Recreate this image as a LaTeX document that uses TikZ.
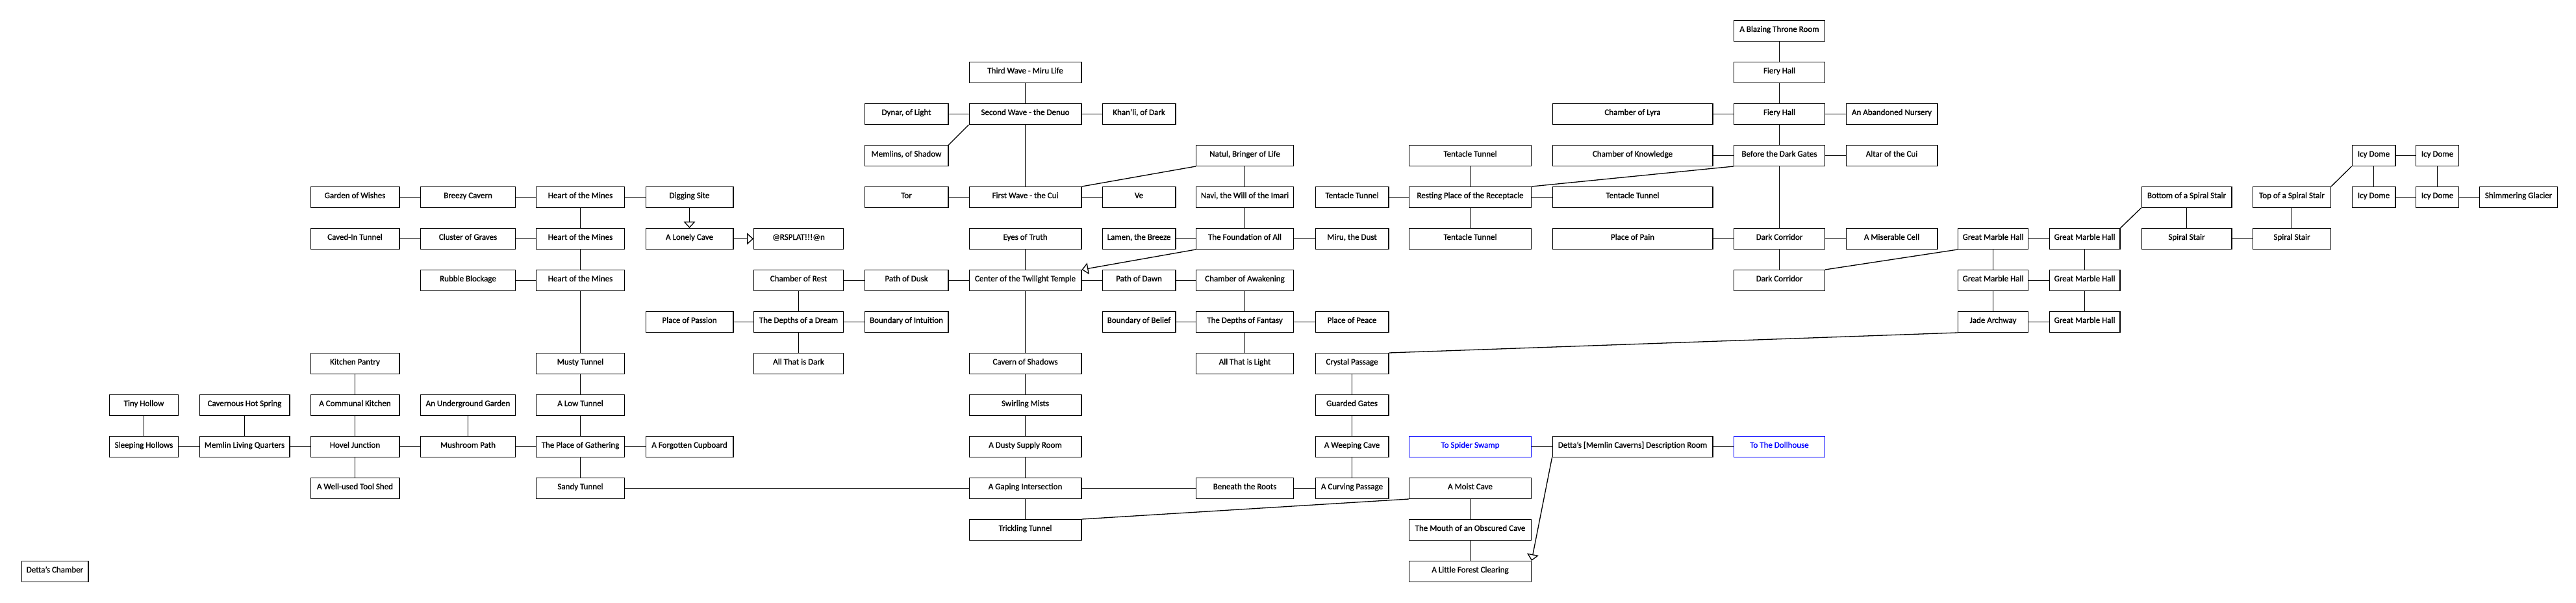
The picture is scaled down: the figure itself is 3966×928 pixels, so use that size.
\documentclass[tikz,border=0pt]{standalone}
\usepackage{fontspec}
\setmainfont{Carlito}[FakeBold=1.2]
\usetikzlibrary{arrows.meta}
\begin{document}
\begin{tikzpicture}[x=1pt,y=-1pt,
  room/.style={draw=black, line width=1.3pt, rectangle, minimum height=31.7pt, inner sep=0pt,
    font=\fontsize{13pt}{15pt}\selectfont, text height=8pt, text depth=5pt},
  portal/.style={room, draw=blue, text=blue},
  link/.style={draw=black, line width=1.3pt},
  arr/.style={link, -{Triangle[open, length=10pt, width=18pt]}},
  col0/.style={minimum width=102.7pt},
  col1/.style={minimum width=105.7pt},
  col2/.style={minimum width=138.7pt},
  col3/.style={minimum width=136.7pt},
  col4/.style={minimum width=145.7pt},
  col5/.style={minimum width=135.7pt},
  col6/.style={minimum width=134.7pt},
  col7/.style={minimum width=137.7pt},
  col8/.style={minimum width=128.7pt},
  col9/.style={minimum width=172.7pt},
  col10/.style={minimum width=112.7pt},
  col11/.style={minimum width=149.7pt},
  col12/.style={minimum width=112.7pt},
  col13/.style={minimum width=187.7pt},
  col14/.style={minimum width=246.7pt},
  col15/.style={minimum width=139.7pt},
  col16/.style={minimum width=140.7pt},
  col17/.style={minimum width=107.7pt},
  col18/.style={minimum width=108.7pt},
  col19/.style={minimum width=138.7pt},
  col20/.style={minimum width=119.7pt},
  col21/.style={minimum width=66.7pt},
  col22/.style={minimum width=65.7pt},
  col23/.style={minimum width=119.7pt}]
\useasboundingbox[fill=white] (0,0) rectangle (3966,928);
% row 0
\node[room,col15] (blaze) at (2739.5,47.5) {A Blazing Throne Room};
% row 1
\node[room,col9] (third) at (1578.5,111.5) {Third Wave - Miru Life};
\node[room,col15] (fiery1) at (2739.5,111.5) {Fiery Hall};
% row 2
\node[room,col8] (dynar) at (1395.5,175.5) {Dynar, of Light};
\node[room,col9] (second) at (1578.5,175.5) {Second Wave - the Denuo};
\node[room,col10] (khanli) at (1753.5,175.5) {Khan'li, of Dark};
\node[room,col14] (lyra) at (2513.5,175.5) {Chamber of Lyra};
\node[room,col15] (fiery2) at (2739.5,175.5) {Fiery Hall};
\node[room,col16] (nursery) at (2912.5,175.5) {An Abandoned Nursery};
% row 3
\node[room,col8] (memlins) at (1395.5,239.5) {Memlins, of Shadow};
\node[room,col11] (natul) at (1916.5,239.5) {Natul, Bringer of Life};
\node[room,col13] (tentT) at (2263.5,239.5) {Tentacle Tunnel};
\node[room,col14] (knowledge) at (2513.5,239.5) {Chamber of Knowledge};
\node[room,col15] (gates) at (2739.5,239.5) {Before the Dark Gates};
\node[room,col16] (altar) at (2912.5,239.5) {Altar of the Cui};
\node[room,col21] (icyA) at (3654.5,239.5) {Icy Dome};
\node[room,col22] (icyB) at (3752.5,239.5) {Icy Dome};
% row 4
\node[room,col3] (garden) at (546.5,303.5) {Garden of Wishes};
\node[room,col4] (breezy) at (720.5,303.5) {Breezy Cavern};
\node[room,col5] (heart1) at (893.5,303.5) {Heart of the Mines};
\node[room,col6] (digging) at (1061.5,303.5) {Digging Site};
\node[room,col8] (tor) at (1395.5,303.5) {Tor};
\node[room,col9] (first) at (1578.5,303.5) {First Wave - the Cui};
\node[room,col10] (ve) at (1753.5,303.5) {Ve};
\node[room,col11] (navi) at (1916.5,303.5) {Navi, the Will of the Imari};
\node[room,col12] (tentL) at (2081.5,303.5) {Tentacle Tunnel};
\node[room,col13] (resting) at (2263.5,303.5) {Resting Place of the Receptacle};
\node[room,col14] (tentR) at (2513.5,303.5) {Tentacle Tunnel};
\node[room,col19] (bottomss) at (3366.5,303.5) {Bottom of a Spiral Stair};
\node[room,col20] (topss) at (3528.5,303.5) {Top of a Spiral Stair};
\node[room,col21] (icyC) at (3654.5,303.5) {Icy Dome};
\node[room,col22] (icyD) at (3752.5,303.5) {Icy Dome};
\node[room,col23] (glacier) at (3877.5,303.5) {Shimmering Glacier};
% row 5
\node[room,col3] (cavedin) at (546.5,367.5) {Caved-In Tunnel};
\node[room,col4] (cluster) at (720.5,367.5) {Cluster of Graves};
\node[room,col5] (heart2) at (893.5,367.5) {Heart of the Mines};
\node[room,col6] (lonely) at (1061.5,367.5) {A Lonely Cave};
\node[room,col7] (rsplat) at (1229.5,367.5) {@RSPLAT!!!@n};
\node[room,col9] (eyes) at (1578.5,367.5) {Eyes of Truth};
\node[room,col10] (lamen) at (1753.5,367.5) {Lamen, the Breeze};
\node[room,col11] (foundation) at (1916.5,367.5) {The Foundation of All};
\node[room,col12] (miru) at (2081.5,367.5) {Miru, the Dust};
\node[room,col13] (tentB) at (2263.5,367.5) {Tentacle Tunnel};
\node[room,col14] (pain) at (2513.5,367.5) {Place of Pain};
\node[room,col15] (dark1) at (2739.5,367.5) {Dark Corridor};
\node[room,col16] (cell) at (2912.5,367.5) {A Miserable Cell};
\node[room,col17] (gmhA) at (3068.5,367.5) {Great Marble Hall};
\node[room,col18] (gmhB) at (3209.5,367.5) {Great Marble Hall};
\node[room,col19] (spiralL) at (3366.5,367.5) {Spiral Stair};
\node[room,col20] (spiralR) at (3528.5,367.5) {Spiral Stair};
% row 6
\node[room,col4] (rubble) at (720.5,431.5) {Rubble Blockage};
\node[room,col5] (heart3) at (893.5,431.5) {Heart of the Mines};
\node[room,col7] (rest) at (1229.5,431.5) {Chamber of Rest};
\node[room,col8] (dusk) at (1395.5,431.5) {Path of Dusk};
\node[room,col9] (center) at (1578.5,431.5) {Center of the Twilight Temple};
\node[room,col10] (dawn) at (1753.5,431.5) {Path of Dawn};
\node[room,col11] (awakening) at (1916.5,431.5) {Chamber of Awakening};
\node[room,col15] (dark2) at (2739.5,431.5) {Dark Corridor};
\node[room,col17] (gmhC) at (3068.5,431.5) {Great Marble Hall};
\node[room,col18] (gmhD) at (3209.5,431.5) {Great Marble Hall};
% row 7
\node[room,col6] (passion) at (1061.5,495.5) {Place of Passion};
\node[room,col7] (dream) at (1229.5,495.5) {The Depths of a Dream};
\node[room,col8] (intuition) at (1395.5,495.5) {Boundary of Intuition};
\node[room,col10] (belief) at (1753.5,495.5) {Boundary of Belief};
\node[room,col11] (fantasy) at (1916.5,495.5) {The Depths of Fantasy};
\node[room,col12] (peace) at (2081.5,495.5) {Place of Peace};
\node[room,col17] (jade) at (3068.5,495.5) {Jade Archway};
\node[room,col18] (gmhE) at (3209.5,495.5) {Great Marble Hall};
% row 8
\node[room,col3] (pantry) at (546.5,559.5) {Kitchen Pantry};
\node[room,col5] (musty) at (893.5,559.5) {Musty Tunnel};
\node[room,col7] (darkall) at (1229.5,559.5) {All That is Dark};
\node[room,col9] (shadows) at (1578.5,559.5) {Cavern of Shadows};
\node[room,col11] (light) at (1916.5,559.5) {All That is Light};
\node[room,col12] (crystal) at (2081.5,559.5) {Crystal Passage};
% row 9
\node[room,col1] (tiny) at (221.5,623.5) {Tiny Hollow};
\node[room,col2] (hotspring) at (376.5,623.5) {Cavernous Hot Spring};
\node[room,col3] (kitchen) at (546.5,623.5) {A Communal Kitchen};
\node[room,col4] (ugarden) at (720.5,623.5) {An Underground Garden};
\node[room,col5] (lowtunnel) at (893.5,623.5) {A Low Tunnel};
\node[room,col9] (mists) at (1578.5,623.5) {Swirling Mists};
\node[room,col12] (guarded) at (2081.5,623.5) {Guarded Gates};
% row 10
\node[room,col1] (sleeping) at (221.5,687.5) {Sleeping Hollows};
\node[room,col2] (quarters) at (376.5,687.5) {Memlin Living Quarters};
\node[room,col3] (hovel) at (546.5,687.5) {Hovel Junction};
\node[room,col4] (mushroom) at (720.5,687.5) {Mushroom Path};
\node[room,col5] (gathering) at (893.5,687.5) {The Place of Gathering};
\node[room,col6] (cupboard) at (1061.5,687.5) {A Forgotten Cupboard};
\node[room,col9] (supply) at (1578.5,687.5) {A Dusty Supply Room};
\node[room,col12] (weeping) at (2081.5,687.5) {A Weeping Cave};
\node[portal,col13] (spider) at (2263.5,687.5) {To Spider Swamp};
\node[room,col14] (descr) at (2513.5,687.5) {Detta's [Memlin Caverns] Description Room};
\node[portal,col15] (doll) at (2739.5,687.5) {To The Dollhouse};
% row 11
\node[room,col3] (toolshed) at (546.5,751.5) {A Well-used Tool Shed};
\node[room,col5] (sandy) at (893.5,751.5) {Sandy Tunnel};
\node[room,col9] (gaping) at (1578.5,751.5) {A Gaping Intersection};
\node[room,col11] (roots) at (1916.5,751.5) {Beneath the Roots};
\node[room,col12] (curving) at (2081.5,751.5) {A Curving Passage};
\node[room,col13] (moist) at (2263.5,751.5) {A Moist Cave};
% row 12
\node[room,col9] (trickling) at (1578.5,815.5) {Trickling Tunnel};
\node[room,col13] (mouth) at (2263.5,815.5) {The Mouth of an Obscured Cave};
% row 13
\node[room,col0] (dettach) at (84.5,879.5) {Detta's Chamber};
\node[room,col13] (clearing) at (2263.5,879.5) {A Little Forest Clearing};

% connectors: fiery / dark gates
\draw[link] (blaze) -- (fiery1);
\draw[link] (fiery1) -- (fiery2);
\draw[link] (lyra) -- (fiery2);
\draw[link] (fiery2) -- (nursery);
\draw[link] (fiery2) -- (gates);
\draw[link] (knowledge) -- (gates);
\draw[link] (gates) -- (altar);
\draw[link] (gates) -- (dark1);
\draw[link] (resting.north east) -- (gates.south west);
% waves
\draw[link] (third) -- (second);
\draw[link] (dynar) -- (second);
\draw[link] (second) -- (khanli);
\draw[link] (memlins.north east) -- (second.south west);
\draw[link] (second) -- (first);
\draw[link] (tor) -- (first);
\draw[link] (first) -- (ve);
\draw[link] (first.north east) -- (natul.south west);
\draw[link] (natul) -- (navi);
\draw[link] (navi) -- (foundation);
\draw[link] (lamen) -- (foundation);
\draw[link] (foundation) -- (miru);
\draw[arr] (foundation.south west) -- (center.north east);
% tentacles
\draw[link] (tentT) -- (resting);
\draw[link] (tentL) -- (resting);
\draw[link] (resting) -- (tentR);
\draw[link] (resting) -- (tentB);
% dark corridor / marble
\draw[link] (pain) -- (dark1);
\draw[link] (dark1) -- (cell);
\draw[link] (dark1) -- (dark2);
\draw[link] (dark2.north east) -- (gmhA.south west);
\draw[link] (gmhA) -- (gmhB);
\draw[link] (gmhA) -- (gmhC);
\draw[link] (gmhB) -- (gmhD);
\draw[link] (gmhC) -- (gmhD);
\draw[link] (gmhC) -- (jade);
\draw[link] (gmhD) -- (gmhE);
\draw[link] (jade) -- (gmhE);
\draw[link] (gmhB.north east) -- (bottomss.south west);
\draw[link] (bottomss) -- (spiralL);
\draw[link] (spiralL) -- (spiralR);
\draw[link] (topss) -- (spiralR);
\draw[link] (topss.north east) -- (icyA.south west);
\draw[link] (icyA) -- (icyB);
\draw[link] (icyA) -- (icyC);
\draw[link] (icyB) -- (icyD);
\draw[link] (icyC) -- (icyD);
\draw[link] (icyD) -- (glacier);
\draw[link] (jade.south west) -- (crystal.north east);
% crystal path
\draw[link] (crystal) -- (guarded);
\draw[link] (guarded) -- (weeping);
\draw[link] (weeping) -- (curving);
\draw[link] (roots) -- (curving);
\draw[link] (gaping) -- (roots);
\draw[link] (sandy) -- (gaping);
% fantasy
\draw[link] (peace) -- (fantasy);
\draw[link] (belief) -- (fantasy);
\draw[link] (fantasy) -- (light);
\draw[link] (awakening) -- (fantasy);
\draw[link] (dawn) -- (awakening);
\draw[link] (center) -- (dawn);
% moist cave
\draw[link] (moist.south west) -- (trickling.north east);
\draw[link] (moist) -- (mouth);
\draw[link] (mouth) -- (clearing);
\draw[link] (spider) -- (descr);
\draw[link] (descr) -- (doll);
\draw[arr] (descr.south west) -- (clearing.north east);
% temple
\draw[link] (eyes) -- (center);
\draw[link] (dusk) -- (center);
\draw[link] (rest) -- (dusk);
\draw[link] (rest) -- (dream);
\draw[link] (passion) -- (dream);
\draw[link] (dream) -- (intuition);
\draw[link] (dream) -- (darkall);
\draw[link] (center) -- (shadows);
\draw[link] (shadows) -- (mists);
\draw[link] (mists) -- (supply);
\draw[link] (supply) -- (gaping);
\draw[link] (gaping) -- (trickling);
% mines
\draw[link] (breezy) -- (heart1);
\draw[link] (garden) -- (breezy);
\draw[link] (heart1) -- (digging);
\draw[arr] (digging) -- (lonely);
\draw[arr] (lonely) -- (rsplat);
\draw[link] (heart1) -- (heart2);
\draw[link] (cluster) -- (heart2);
\draw[link] (cavedin) -- (cluster);
\draw[link] (heart2) -- (heart3);
\draw[link] (rubble) -- (heart3);
\draw[link] (heart3) -- (musty);
\draw[link] (musty) -- (lowtunnel);
\draw[link] (lowtunnel) -- (gathering);
\draw[link] (mushroom) -- (gathering);
\draw[link] (gathering) -- (cupboard);
\draw[link] (gathering) -- (sandy);
\draw[link] (ugarden) -- (mushroom);
\draw[link] (hovel) -- (mushroom);
\draw[link] (kitchen) -- (hovel);
\draw[link] (pantry) -- (kitchen);
\draw[link] (hovel) -- (toolshed);
\draw[link] (quarters) -- (hovel);
\draw[link] (hotspring) -- (quarters);
\draw[link] (sleeping) -- (quarters);
\draw[link] (tiny) -- (sleeping);
\end{tikzpicture}
\end{document}
